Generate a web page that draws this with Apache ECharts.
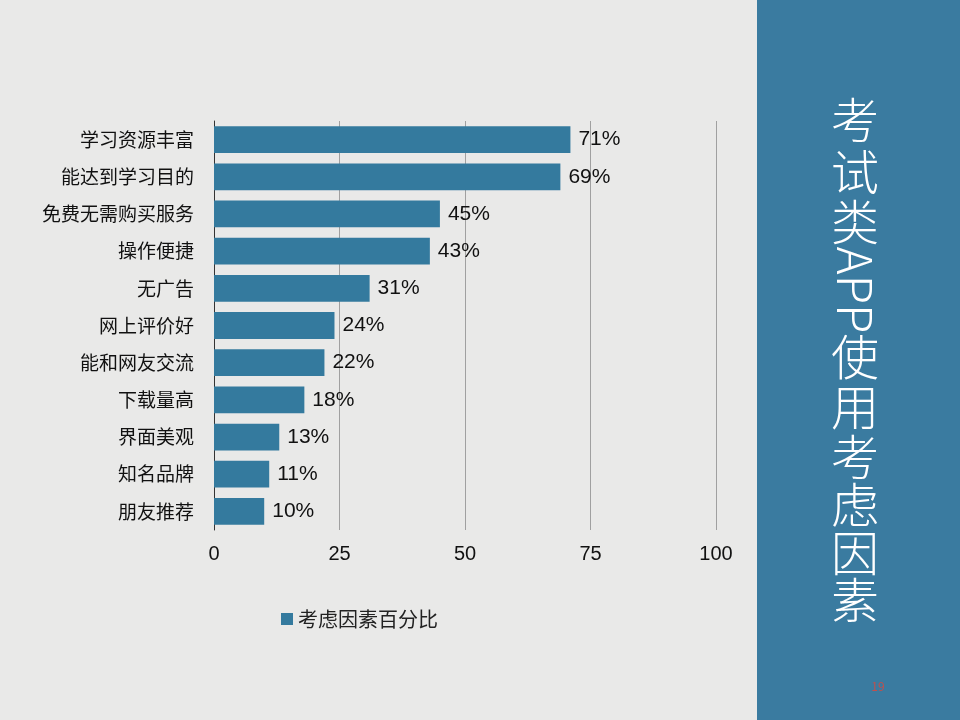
<!DOCTYPE html>
<html><head><meta charset="utf-8">
<script src="https://cdn.jsdelivr.net/npm/echarts@6/dist/echarts.min.js"></script>
<style>html,body{margin:0;padding:0;background:#e9e9e8}#c{width:960px;height:720px}</style>
</head><body><div id="c"></div>
<script>
const categories = ['学习资源丰富','能达到学习目的','免费无需购买服务','操作便捷','无广告','网上评价好','能和网友交流','下载量高','界面美观','知名品牌','朋友推荐'];
const values = [71,69,45,43,31,24,22,18,13,11,10];
const seriesName = '考虑因素百分比';
const titleChars = ['考','试','类','APP','使','用','考','虑','因','素'];
const titleY = [120,172,222,290,357,407,457,505,553,600];

const chart = echarts.init(document.getElementById('c'));
const font = '"Noto Sans CJK SC", sans-serif';
const gfx = [{type:'rect',shape:{x:757,y:0,width:203,height:720},style:{fill:'#3a7ba0'},z:0}];
titleChars.forEach((t,i)=>{
  gfx.push({type:'text',x:855,y:titleY[i],rotation:t==='APP'?-Math.PI/2:0,
    style:{text:t,fill:'#ffffff',font:'300 48px '+font,textAlign:'center',textVerticalAlign:'middle'},z:5});
});
gfx.push({type:'text',x:878,y:686,style:{text:'19',fill:'#c0504d',font:'12px '+font,textAlign:'center',textVerticalAlign:'middle'},z:5});

chart.setOption({
  backgroundColor:'#e9e9e8',
  graphic:gfx,
  legend:{bottom:86,left:276,itemWidth:12,itemHeight:12,icon:'rect',
    textStyle:{fontSize:20,color:'#222',fontFamily:font},data:[seriesName]},
  grid:{left:214,right:244,top:121,bottom:190},
  xAxis:{type:'value',min:0,max:100,interval:25,
    axisLabel:{fontSize:20,color:'#111',fontFamily:'Arial',margin:14},
    splitLine:{lineStyle:{color:'#a0a0a0'}},axisLine:{show:false},axisTick:{show:false}},
  yAxis:{type:'category',data:categories,inverse:true,
    axisLabel:{fontSize:19,color:'#111',fontFamily:font,margin:20},
    axisLine:{lineStyle:{color:'#333'}},axisTick:{show:false}},
  series:[{name:seriesName,type:'bar',data:values,barWidth:'72%',
    itemStyle:{color:'#347a9e'},
    label:{show:true,position:'right',formatter:'{c}%',fontSize:21,color:'#111',fontFamily:'Arial',distance:8}}]
});
</script></body></html>
